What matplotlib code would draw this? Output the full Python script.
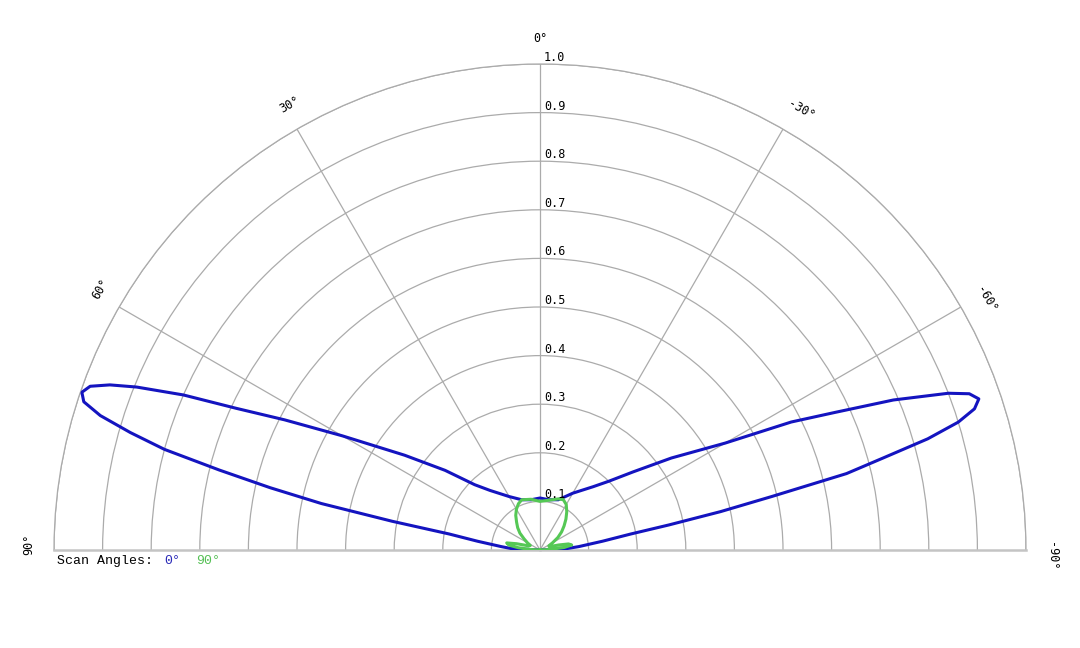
import numpy as np
import matplotlib.pyplot as plt

# photometric data, angles in degrees (0 = straight down / nadir, + to the left)
blue_theta = [-90, -87, -85, -82, -80, -79, -78, -77, -76, -75, -74, -73, -72, -71,
              -70, -69, -67, -65, -63, -60, -55, -50, -45, -40, -30, -20, -10, 0,
              10, 20, 30, 40, 45, 50, 55, 60, 63, 65, 66.5, 68, 69, 70, 71, 72,
              73, 74, 75, 76, 77, 78, 79, 80, 82, 85, 87, 90]
blue_r = [0.0, 0.055, 0.08, 0.13, 0.19, 0.27, 0.38, 0.49, 0.65, 0.73, 0.83, 0.90, 0.94, 0.955,
          0.94, 0.90, 0.79, 0.67, 0.58, 0.44, 0.33, 0.25, 0.20, 0.17, 0.135, 0.11, 0.105, 0.107,
          0.105, 0.11, 0.127, 0.16, 0.19, 0.255, 0.34, 0.47, 0.59, 0.69, 0.80, 0.895, 0.948, 0.985, 0.997, 0.987,
          0.946, 0.877, 0.80, 0.68, 0.57, 0.46, 0.31, 0.19, 0.13, 0.08, 0.06, 0.0]

green_theta = [-90, -87, -84, -81, -78, -75, -70, -65, -60, -55, -50, -45, -40, -35,
               -30, -25, -20, -10, 0, 10, 20, 25, 30, 35, 40, 45, 50, 55, 60, 65,
               70, 75, 78, 81, 84, 87, 90]
green_r = [0.0, 0.02, 0.05, 0.066, 0.06, 0.04, 0.02, 0.02, 0.03, 0.045, 0.058, 0.07, 0.083, 0.096,
           0.108, 0.114, 0.112, 0.104, 0.100, 0.106, 0.110, 0.105, 0.097, 0.087, 0.075, 0.065, 0.054, 0.04, 0.03, 0.022,
           0.025, 0.05, 0.07, 0.065, 0.045, 0.02, 0.0]

r_ticks = [0.1, 0.2, 0.3, 0.4, 0.5, 0.6, 0.7, 0.8, 0.9, 1.0]
r_labels = ["0.1", "0.2", "0.3", "0.4", "0.5", "0.6", "0.7", "0.8", "0.9", "1.0"]
theta_ticks = [90, 60, 30, 0, -30, -60, -90]
theta_labels = ["90°", "60°", "30°", "0°", "-30°", "-60°", "-90°"]

blue = "#1414c0"
green = "#55c855"
grid_col = "#ababab"

fig = plt.figure(figsize=(10.8, 6.48), dpi=100)
# square box so the half disc spans x 54..1026 px, centre at y=550 px
ax = fig.add_axes([54 / 1080, -145 / 648, 972 / 1080, 972 / 648], projection="polar")
ax.set_theta_zero_location("N")
ax.set_theta_direction(1)
ax.set_thetamin(-90)
ax.set_thetamax(90)
ax.set_ylim(0, 1)

ax.set_rgrids(r_ticks, labels=[""] * len(r_ticks))
ax.set_thetagrids([-60, -30, 0, 30, 60], labels=[""] * 5)
ax.tick_params(length=0)
ax.grid(True, color=grid_col, lw=0.9)
ax.spines["polar"].set_color(grid_col)
ax.spines["polar"].set_linewidth(0.9)
for s in ["start", "end"]:
    ax.spines[s].set_color("#c4c4c4")
    ax.spines[s].set_linewidth(1.8)

ax.plot(np.radians(blue_theta), blue_r, color=blue, lw=2.2, zorder=3)
ax.plot(np.radians(green_theta), green_r, color=green, lw=2.2, zorder=4)

mono = "DejaVu Sans Mono"
for r, lbl in zip(r_ticks, r_labels):
    ax.annotate(lbl, xy=(0, r), xytext=(4, 3), textcoords="offset pixels",
                ha="left", va="baseline", fontsize=8.5, family=mono, zorder=5)

for t, lbl in zip(theta_ticks, theta_labels):
    # labels sit a little along their own reading direction
    shift = 0 if t == 0 else 6
    dx = shift * np.cos(np.radians(t))
    dy = shift * np.sin(np.radians(t))
    ax.annotate(lbl, xy=(np.radians(t), 1.052), xytext=(dx, dy), textcoords="offset pixels",
                ha="center", va="center", rotation=t, rotation_mode="anchor",
                fontsize=8.5, family=mono, annotation_clip=False)

# legend line under the chart
y_leg = 1 - 561 / 648
fig.text(57 / 1080, y_leg, "Scan Angles:", fontsize=9.5, family="Liberation Mono", va="center")
fig.text(164 / 1080, y_leg, "0°", fontsize=9.5, family="Liberation Mono", va="center", color="#2a2ab8")
fig.text(196 / 1080, y_leg, "90°", fontsize=9.5, family="Liberation Mono", va="center", color="#55c055")

fig.savefig("out.png", dpi=100, facecolor="white")
